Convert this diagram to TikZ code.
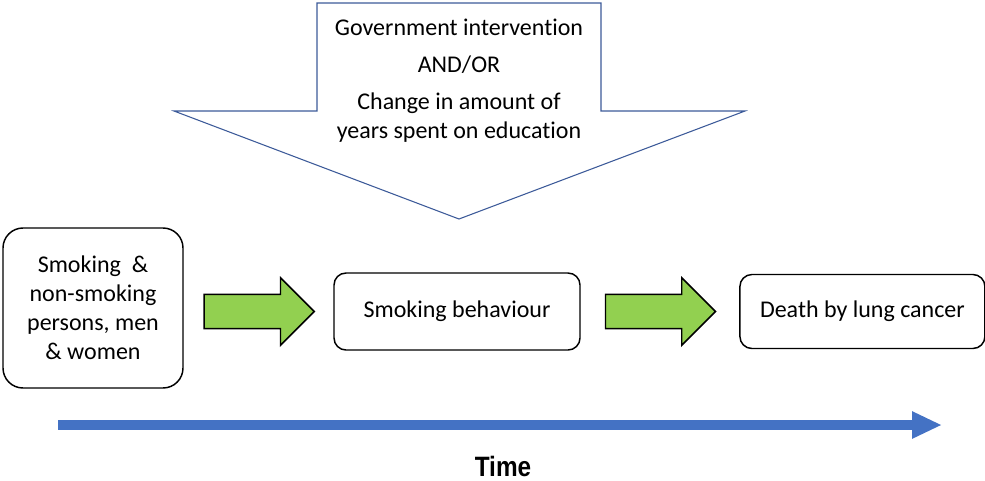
\documentclass[tikz,border=0pt]{standalone}
\usepackage{fontspec}
\setmainfont[Ligatures=NoCommon]{Carlito}
\newfontfamily\timefont{Liberation Sans}
\usepackage{tikz}
\usetikzlibrary{positioning,shapes.arrows,arrows.meta}
\definecolor{garrfill}{HTML}{92D050}
\definecolor{timeblue}{HTML}{4472C4}
\definecolor{intervblue}{HTML}{3C5A99}
\tikzset{txt/.style={font=\fontsize{18}{21.75}\selectfont}}
\tikzset{rbox/.style={txt, draw, line width=1.1pt, rounded corners=9pt, fill=white, align=center, inner sep=0pt}}
\tikzset{garr/.style={single arrow, draw, line width=1.1pt, fill=garrfill, minimum height=82.5pt, inner xsep=0pt, inner ysep=12.35pt, single arrow head extend=12.4pt}}
\tikzset{timearr/.style={draw=timeblue, line width=7.5pt, -{Triangle[length=22.5pt,width=19pt]}}}

\begin{document}
\begin{tikzpicture}[x=0.75pt, y=-0.75pt]
	\useasboundingbox (0,0) rectangle (985,480);
	% intervention block arrow
	\draw[intervblue, line width=0.8pt, fill=white] (317,3) -- (601,3) -- (601,111)
		-- (745,111) -- (459,219) -- (174,111) -- (317,111) -- cycle;
	\node[txt, align=center] (gov) at (459,81)
		{Government intervention\\[6pt] AND/OR\\[6pt] Change in amount of\\ years spent on education};

	\node[rbox, rounded corners=15pt, minimum width=135pt, minimum height=120pt] (pop) at (93,308)
		{Smoking~~\&\\ non-smoking\\ persons, men\\ \& women};
	\node[rbox, minimum width=184.5pt, minimum height=57.75pt] (behav) at (457,311.5) {Smoking behaviour};
	\node[garr, left=13.5pt of behav] (g1) {};
	\node[garr, right=18pt of behav] (g2) {};
	\node[rbox, minimum width=183.75pt, minimum height=55.5pt, right=17pt of g2] (death) {Death by lung cancer};

	% time axis
	\coordinate (t0) at (58,425);
	\coordinate (t1) at (942,425);
	\draw[timearr] (t0) -- (t1);
	\node[font=\timefont\bfseries\fontsize{21}{24}\selectfont] (time) at (503,466) {\scalebox{0.87}[1]{Time}};
\end{tikzpicture}
\end{document}
